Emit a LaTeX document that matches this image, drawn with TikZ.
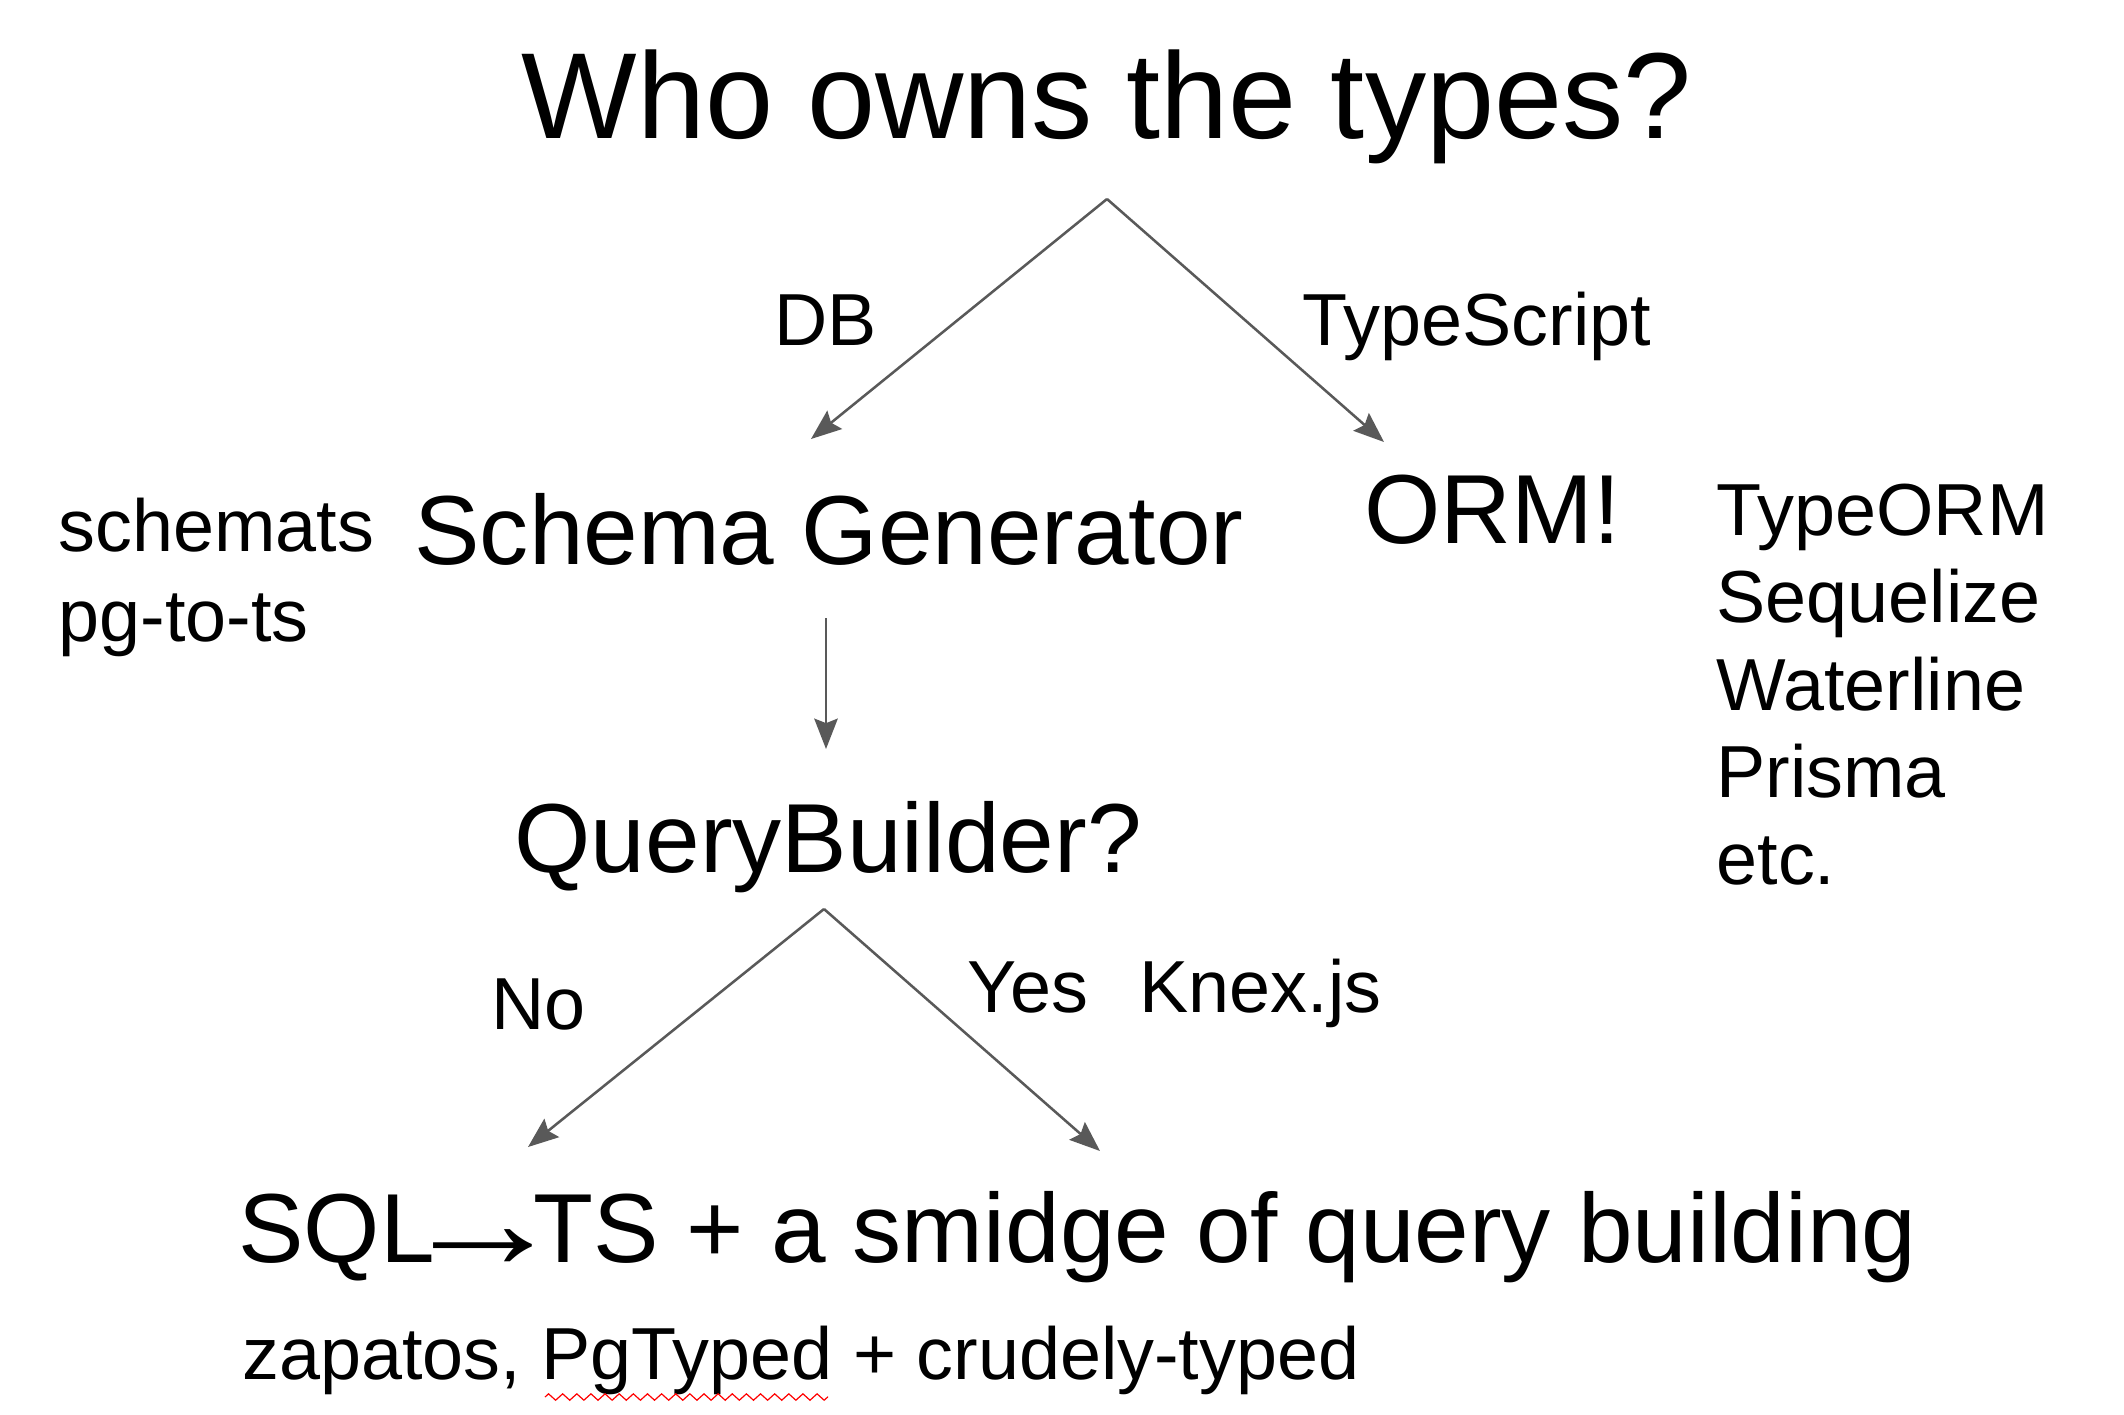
\documentclass[tikz,border=0pt]{standalone}
\usepackage{fontspec}
\usepackage{graphicx}
\setmainfont{Liberation Sans}
\usetikzlibrary{arrows.meta,decorations.pathmorphing}
\definecolor{linegray}{HTML}{595959}
\newcommand{\longarrowglyph}{\rlap{\kern-13.3pt\raisebox{-2.3pt}{\scalebox{1.7}[1.4]{→}}}\kern37.1pt}
\tikzset{
  big/.style={anchor=base west,inner sep=0pt,font=\fontsize{45.9}{55}\selectfont},
  mid/.style={anchor=base west,inner sep=0pt,font=\fontsize{36.8}{44}\selectfont},
  small/.style={anchor=base west,inner sep=0pt,font=\fontsize{27.65}{33}\selectfont},
  conn/.style={draw=linegray,line width=0.95pt,-{Stealth[length=11.4pt,width=8.8pt,inset=1.7pt]},fill=linegray}
}
\begin{document}
\begin{tikzpicture}[x=0.375pt,y=-0.375pt]
\useasboundingbox (0,0) rectangle (2124,1414);
% texts
\node[big] (title) at (521,138) {Who owns the types?};
\node[small] (db) at (774,345) {DB};
\node[small] (ts) at (1302,345) {TypeScript};
\node[small] (schemats) at (58,551) {schemats};
\node[small] (pgtots) at (58,641) {pg-to-ts};
\node[mid] (schema) at (414,564) {Schema Generator};
\node[mid] (orm) at (1364,543) {ORM!};
\node[small] (typeorm) at (1716,535) {TypeORM};
\node[small] (sequelize) at (1716,622) {Sequelize};
\node[small] (waterline) at (1716,710) {Waterline};
\node[small] (prisma) at (1716,797) {Prisma};
\node[small] (etc) at (1716,884) {etc.};
\node[mid] (qb) at (514,872) {QueryBuilder?};
\node[small] (no) at (491,1029) {No};
\node[small] (yes) at (967,1012) {Yes};
\node[small] (knex) at (1139,1012) {Knex.js};
\node[mid] (sql) at (238,1262) {SQL\longarrowglyph TS + a smidge of query building};
\node[small] (zap) at (242,1379) {zapatos, PgTyped + crudely-typed};
% connector points
\coordinate (apexA) at (1107,199);
\coordinate (tipA1) at (811,439);
\coordinate (tipA2) at (1384,442);
\coordinate (vtop) at (826,618);
\coordinate (vtip) at (826,749);
\coordinate (apexB) at (824,909);
\coordinate (tipB1) at (528,1147);
\coordinate (tipB2) at (1100,1151);
\coordinate (sqA) at (545,1397);
\coordinate (sqB) at (828,1397);
% connectors
\draw[conn] (apexA) -- (tipA1);
\draw[conn] (apexA) -- (tipA2);
\draw[conn] (vtop) -- (vtip);
\draw[conn] (apexB) -- (tipB1);
\draw[conn] (apexB) -- (tipB2);
% spell-check squiggle
\draw[red,line width=0.45pt,decorate,decoration={zigzag,segment length=5.3pt,amplitude=1.2pt}] (sqA) -- (sqB);
\end{tikzpicture}
\end{document}
